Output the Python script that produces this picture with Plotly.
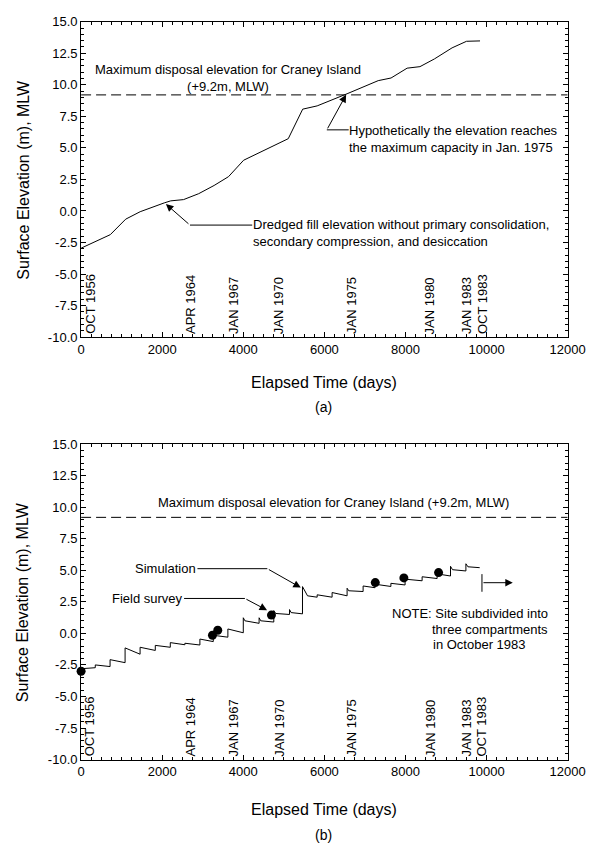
import plotly.graph_objects as go

# ---------------- data ----------------
# (a) dredged fill elevation without consolidation
top_days = [0, 720, 1100, 1457, 2052, 2210, 2527, 2900, 3280, 3636, 4008, 4705,
            5109, 5465, 5822, 6559, 6970, 7327, 7644, 8040, 8357, 8713, 9149, 9505, 9838]
top_elev = [-2.95, -1.88, -0.65, -0.06, 0.64, 0.80, 0.90, 1.37, 2.02, 2.72, 4.02, 5.08,
            5.73, 8.07, 8.33, 9.29, 9.88, 10.33, 10.54, 11.32, 11.44, 12.05, 12.93, 13.45, 13.48]

# (b) simulation (sawtooth) and field survey
sim_days = [0, 350, 350, 715, 715, 1085, 1085, 1455, 1455, 1830, 1830, 2200, 2200,
            2560, 2560, 2930, 2930, 3260, 3260, 3620, 3620, 4000, 4000, 4040, 4390, 4390, 4430,
            4752, 4752, 4800, 5140, 5140, 5180, 5460, 5460, 5584, 5822, 5822, 6190, 6190,
            6560, 6560, 6600, 6955, 6955, 7250, 7250, 7640, 7640, 7990, 7990, 8410, 8410,
            8780, 8780, 9110, 9110, 9160, 9490, 9490, 9540, 9830]
sim_elev = [-2.80, -2.72, -2.50, -2.63, -2.08, -2.32, -1.15, -1.65, -1.10, -1.35, -0.95, -1.10, -0.73,
            -0.90, -0.78, -0.92, -0.45, -0.65, -0.15, -0.30, 0.35, 0.05, 1.24, 1.00, 0.80, 1.24, 1.00,
            0.90, 1.81, 1.58, 1.50, 1.89, 1.65, 1.55, 3.71, 2.98, 2.87, 3.06, 2.87, 3.24,
            2.98, 3.58, 3.38, 3.32, 3.76, 3.62, 3.90, 3.72, 3.97, 3.84, 4.30, 4.17, 4.49,
            4.35, 4.72, 4.55, 5.32, 5.05, 4.95, 5.52, 5.28, 5.21]
survey_days = [0, 3240, 3370, 4695, 7255, 7960, 8816]
survey_elev = [-3.0, -0.15, 0.25, 1.45, 4.03, 4.40, 4.82]

max_elev = 9.2
date_labels = ["OCT 1956", "APR 1964", "JAN 1967", "JAN 1970",
               "JAN 1975", "JAN 1980", "JAN 1983", "OCT 1983"]
date_label_days = [214, 2697, 3755, 4871, 6666, 8602, 9505, 9886]

x_ticks = [0, 2000, 4000, 6000, 8000, 10000, 12000]
y_ticks = [-10.0, -7.5, -5.0, -2.5, 0.0, 2.5, 5.0, 7.5, 10.0, 12.5, 15.0]
y_ticktext = [f"{v:.1f}" for v in y_ticks]

# ---------------- figure ----------------
W, H = 604, 854
FONT = "Liberation Sans, Arial, sans-serif"
BLACK = "black"


def px(xp):
    return xp / W


def py(yp):
    return 1 - yp / H


fig = go.Figure()
line_style = dict(color=BLACK, width=1)
dash_style = dict(color=BLACK, width=1, dash="10px,5px")

fig.add_trace(go.Scatter(x=top_days, y=top_elev, mode="lines", line=line_style,
                         xaxis="x", yaxis="y", showlegend=False, hoverinfo="skip"))
fig.add_trace(go.Scatter(x=[0, 12000], y=[max_elev, max_elev], mode="lines", line=dash_style,
                         xaxis="x", yaxis="y", showlegend=False, hoverinfo="skip"))
fig.add_trace(go.Scatter(x=sim_days, y=sim_elev, mode="lines", line=line_style,
                         xaxis="x2", yaxis="y2", showlegend=False, hoverinfo="skip"))
fig.add_trace(go.Scatter(x=[0, 12000], y=[max_elev, max_elev], mode="lines", line=dash_style,
                         xaxis="x2", yaxis="y2", showlegend=False, hoverinfo="skip"))
fig.add_trace(go.Scatter(x=survey_days, y=survey_elev, mode="markers",
                         marker=dict(color=BLACK, size=9, line=dict(width=0)),
                         xaxis="x2", yaxis="y2", showlegend=False, hoverinfo="skip",
                         cliponaxis=False))

tickfont = dict(family=FONT, size=13, color=BLACK)
xax = dict(range=[0, 12000], tickvals=x_ticks, ticktext=[str(v) for v in x_ticks],
           showline=True, linecolor=BLACK, linewidth=1, mirror="ticks",
           ticks="inside", ticklen=5, tickcolor=BLACK, tickwidth=1,
           showgrid=False, zeroline=False, tickfont=tickfont,
           minor=dict(ticks="inside", ticklen=3, tick0=0, dtick=250, tickcolor=BLACK,
                      tickwidth=1, showgrid=False),
           domain=[px(80), px(585)], fixedrange=True)
yax = dict(range=[-10, 15], tickvals=y_ticks, ticktext=y_ticktext,
           showline=True, linecolor=BLACK, linewidth=1, mirror="ticks",
           ticks="inside", ticklen=5, tickcolor=BLACK, tickwidth=1,
           showgrid=False, zeroline=False, tickfont=tickfont,
           minor=dict(ticks="inside", ticklen=3, tick0=0, dtick=0.5, tickcolor=BLACK,
                      tickwidth=1, showgrid=False),
           fixedrange=True)

fig.update_layout(
    width=W, height=H, margin=dict(l=0, r=0, t=0, b=0),
    paper_bgcolor="white", plot_bgcolor="white",
    font=dict(family=FONT, size=13, color=BLACK),
    xaxis=dict(xax, anchor="y"),
    yaxis=dict(yax, anchor="x", domain=[py(336), py(15)]),
    xaxis2=dict(xax, anchor="y2"),
    yaxis2=dict(yax, anchor="x2", domain=[py(766), py(445)]),
    showlegend=False,
)

ann = []
shapes = []
tfont = dict(family=FONT, size=13, color=BLACK)

# axis titles and panel labels
for (ty, xt_y, lab_y, lab) in [(175.5, 382, 407, "(a)"), (605.5, 817, 843, "(b)")]:
    ann.append(dict(text="Surface Elevation (m), MLW", textangle=-90, xref="paper", yref="paper",
                    x=px(20), y=py(ty), xanchor="center", yanchor="middle", showarrow=False,
                    font=dict(family=FONT, size=16, color=BLACK)))
    ann.append(dict(text="Elapsed Time (days)", xref="paper", yref="paper",
                    x=px(332), y=py(xt_y), xanchor="center", yanchor="middle", showarrow=False,
                    font=dict(family=FONT, size=16, color=BLACK)))
    ann.append(dict(text=lab, xref="paper", yref="paper",
                    x=px(332), y=py(lab_y), xanchor="center", yanchor="middle", showarrow=False,
                    font=dict(family=FONT, size=14, color=BLACK)))

# vertical date labels
for xr, yr in [("x", "y"), ("x2", "y2")]:
    for lab, d in zip(date_labels, date_label_days):
        ann.append(dict(text=lab, textangle=-90, xref=xr, yref=yr, x=d, y=-10,
                        xanchor="center", yanchor="bottom", yshift=1, showarrow=False,
                        font=tfont))

# ---- panel (a) annotations ----
ann.append(dict(text="Maximum disposal elevation for Craney Island<br>(+9.2m, MLW)",
                xref="x", yref="y", x=3612, y=10.52, xanchor="center", yanchor="middle",
                align="center", showarrow=False, font=tfont))
ann.append(dict(text="Hypothetically the elevation reaches<br>the maximum capacity in Jan. 1975",
                xref="x", yref="y", x=6560, y=5.73, xanchor="left", yanchor="middle",
                align="left", showarrow=False, font=tfont))
shapes.append(dict(type="line", xref="x", yref="y", x0=6060, y0=6.43, x1=6600, y1=6.43,
                   line=dict(color=BLACK, width=1)))
ann.append(dict(text="", xref="x", yref="y", x=6535, y=9.21, axref="x", ayref="y",
                ax=6060, ay=6.43, showarrow=True, arrowhead=2, arrowsize=1.5, arrowwidth=1,
                arrowcolor=BLACK, standoff=0, startstandoff=0))
ann.append(dict(text="Dredged fill elevation without primary consolidation,<br>"
                     "secondary compression, and desiccation",
                xref="x", yref="y", x=4182, y=-1.78, xanchor="left", yanchor="middle",
                align="left", showarrow=False, font=tfont))
shapes.append(dict(type="line", xref="x", yref="y", x0=2685, y0=-1.12, x1=4220, y1=-1.12,
                   line=dict(color=BLACK, width=1)))
ann.append(dict(text="", xref="x", yref="y", x=2091, y=0.55, axref="x", ayref="y",
                ax=2685, ay=-1.12, showarrow=True, arrowhead=2, arrowsize=1.5, arrowwidth=1,
                arrowcolor=BLACK, standoff=0, startstandoff=0))

# ---- panel (b) annotations ----
ann.append(dict(text="Maximum disposal elevation for Craney Island (+9.2m, MLW)",
                xref="x2", yref="y2", x=6226, y=10.4, xanchor="center", yanchor="middle",
                showarrow=False, font=tfont))
ann.append(dict(text="Simulation", xref="x2", yref="y2", x=2892, y=5.13,
                xanchor="right", yanchor="middle", showarrow=False, font=tfont))
shapes.append(dict(type="line", xref="x2", yref="y2", x0=2870, y0=5.13, x1=4593, y1=5.13,
                   line=dict(color=BLACK, width=1)))
ann.append(dict(text="", xref="x2", yref="y2", x=5418, y=3.63, axref="x2", ayref="y2",
                ax=4593, ay=5.13, showarrow=True, arrowhead=2, arrowsize=1.5, arrowwidth=1,
                arrowcolor=BLACK, standoff=0, startstandoff=0))
ann.append(dict(text="Field survey", xref="x2", yref="y2", x=2559, y=2.77,
                xanchor="right", yanchor="middle", showarrow=False, font=tfont))
shapes.append(dict(type="line", xref="x2", yref="y2", x0=2540, y0=2.77, x1=4040, y1=2.77,
                   line=dict(color=BLACK, width=1)))
ann.append(dict(text="", xref="x2", yref="y2", x=4586, y=1.84, axref="x2", ayref="y2",
                ax=4040, ay=2.77, showarrow=True, arrowhead=2, arrowsize=1.5, arrowwidth=1,
                arrowcolor=BLACK, standoff=0, startstandoff=0))
# subdivision marker
shapes.append(dict(type="line", xref="x2", yref="y2", x0=9886, y0=3.3, x1=9886, y1=4.7,
                   line=dict(color=BLACK, width=1)))
ann.append(dict(text="", xref="x2", yref="y2", x=10646, y=4.02, axref="x2", ayref="y2",
                ax=9886, ay=4.02, showarrow=True, arrowhead=2, arrowsize=1.5, arrowwidth=1,
                arrowcolor=BLACK, standoff=0, startstandoff=0))
ann.append(dict(text="NOTE: Site subdivided into", xref="x2", yref="y2", x=11573, y=1.6,
                xanchor="right", yanchor="middle", showarrow=False, font=tfont))
ann.append(dict(text="three compartments", xref="x2", yref="y2", x=11573, y=0.28,
                xanchor="right", yanchor="middle", showarrow=False, font=tfont))
ann.append(dict(text="in October 1983", xref="x2", yref="y2", x=8626, y=-0.89,
                xanchor="left", yanchor="middle", showarrow=False, font=tfont))

fig.update_layout(annotations=ann, shapes=shapes)
fig.write_html("out.html")
